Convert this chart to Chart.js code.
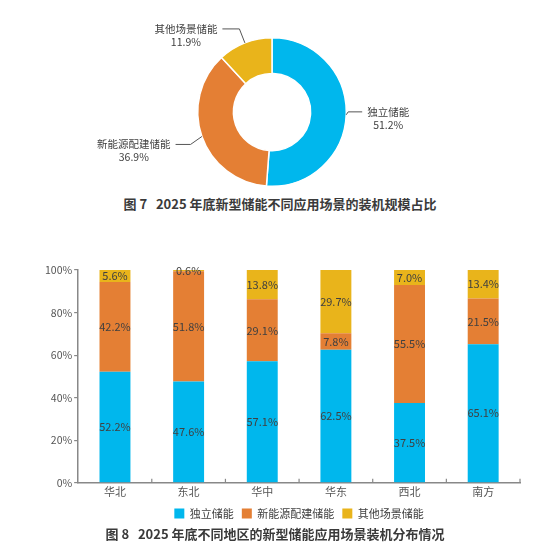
<!DOCTYPE html>
<html>
<head>
<meta charset="utf-8">
<script src="https://cdn.jsdelivr.net/npm/chart.js@4"></script>
<style>
    body { margin: 0; background: #fff; width: 560px; height: 560px; position: relative; overflow: hidden; }
    .box { position: absolute; left: 0; width: 560px; }
    .caption { position: absolute; left: 0; width: 560px; text-align: center; font-family: "Noto Sans CJK SC", sans-serif; font-weight: bold; font-size: 13px; color: #3a3a3a; }
</style>
</head>
<body>
<div class="box" style="top:0;height:192px"><canvas id="sceneChart"></canvas></div>
<div class="caption" style="top:194px">图 7&nbsp;&nbsp;&nbsp;2025 年底新型储能不同应用场景的装机规模占比</div>
<div class="box" style="top:250px;height:279px"><canvas id="regionChart"></canvas></div>
<div class="caption" style="top:524px;left:-5px">图 8&nbsp;&nbsp;&nbsp;2025 年底不同地区的新型储能应用场景装机分布情况</div>
<script>
// 图7 data
const sceneLabels = ["独立储能", "新能源配建储能", "其他场景储能"];
const sceneShares = [51.2, 36.9, 11.9];

// 图8 data
const regions = ["华北", "东北", "华中", "华东", "西北", "南方"];
const independentShare = [52.2, 47.6, 57.1, 62.5, 37.5, 65.1];
const renewableShare = [42.2, 51.8, 29.1, 7.8, 55.5, 21.5];
const otherShare = [5.6, 0.6, 13.8, 29.7, 7.0, 13.4];
const yTicks = [0, 20, 40, 60, 80, 100];

const colors = ["rgb(0,183,237)", "rgb(228,127,52)", "rgb(233,180,27)"];
const FONT = "'Noto Sans CJK SC', sans-serif";
const textColor = "#404040";

// leader line shape per slice (radial part, horizontal run, elbow y nudge)
const leaderRadial = [2, 12, 15];
const leaderRun = [14, 15, 17];
const leaderNudge = [-3, 4, 0];

// leader lines + two-line labels outside the doughnut
const sliceLabelPlugin = {
    id: "sliceLabels",
    afterDatasetsDraw(chart) {
        const ctx = chart.ctx;
        const meta = chart.getDatasetMeta(0);
        ctx.save();
        ctx.strokeStyle = "#555";
        ctx.lineWidth = 1;
        ctx.font = "10.5px " + FONT;
        ctx.fillStyle = textColor;
        ctx.textBaseline = "middle";
        ctx.textAlign = "center";
        meta.data.forEach((arc, i) => {
            const mid = (arc.startAngle + arc.endAngle) / 2;
            const cos = Math.cos(mid), sin = Math.sin(mid);
            const x0 = arc.x + cos * arc.outerRadius;
            const y0 = arc.y + sin * arc.outerRadius;
            const x1 = arc.x + cos * (arc.outerRadius + leaderRadial[i]);
            const y1 = arc.y + sin * (arc.outerRadius + leaderRadial[i]) + leaderNudge[i];
            const side = cos >= 0 ? 1 : -1;
            const x2 = x1 + side * leaderRun[i];
            ctx.beginPath();
            ctx.moveTo(x0, y0);
            ctx.lineTo(x1, y1);
            ctx.lineTo(x2, y1);
            ctx.stroke();
            const w = ctx.measureText(sceneLabels[i]).width;
            const cx = x2 + side * (5 + w / 2);
            ctx.fillText(sceneLabels[i], cx, y1);
            ctx.fillText(sceneShares[i].toFixed(1) + "%", cx, y1 + 13);
        });
        ctx.restore();
    }
};

new Chart(document.getElementById("sceneChart"), {
    type: "doughnut",
    data: {
        labels: sceneLabels,
        datasets: [{
            data: sceneShares,
            backgroundColor: colors,
            borderColor: "#fff",
            borderWidth: 1.5
        }]
    },
    options: {
        responsive: true,
        maintainAspectRatio: false,
        animation: false,
        cutout: "52%",
        layout: { padding: { top: 37, bottom: 5, left: 0, right: 16 } },
        plugins: { legend: { display: false }, tooltip: { enabled: false } }
    },
    plugins: [sliceLabelPlugin]
});

// values inside each stacked segment
const barLabelPlugin = {
    id: "barLabels",
    afterDatasetsDraw(chart) {
        const ctx = chart.ctx;
        ctx.save();
        ctx.font = "11px " + FONT;
        ctx.fillStyle = textColor;
        ctx.textAlign = "center";
        ctx.textBaseline = "middle";
        chart.data.datasets.forEach((ds, di) => {
            chart.getDatasetMeta(di).data.forEach((bar, i) => {
                ctx.fillText(ds.data[i].toFixed(1) + "%", bar.x, (bar.y + bar.base) / 2);
            });
        });
        ctx.restore();
    }
};

// short upward ticks on the category boundaries
const xTickPlugin = {
    id: "xTicks",
    afterDraw(chart) {
        const x = chart.scales.x;
        const y = chart.scales.y.getPixelForValue(0);
        const ctx = chart.ctx;
        ctx.save();
        ctx.strokeStyle = "#888";
        ctx.lineWidth = 1.2;
        for (let i = 1; i <= regions.length; i++) {
            const px = i < regions.length
                ? (x.getPixelForTick(i - 1) + x.getPixelForTick(i)) / 2
                : x.right;
            ctx.beginPath();
            ctx.moveTo(px, y);
            ctx.lineTo(px, y - 4);
            ctx.stroke();
        }
        ctx.restore();
    }
};

new Chart(document.getElementById("regionChart"), {
    type: "bar",
    data: {
        labels: regions,
        datasets: [
            { label: "独立储能", data: independentShare, backgroundColor: colors[0] },
            { label: "新能源配建储能", data: renewableShare, backgroundColor: colors[1] },
            { label: "其他场景储能", data: otherShare, backgroundColor: colors[2] }
        ]
    },
    options: {
        responsive: true,
        maintainAspectRatio: false,
        animation: false,
        datasets: { bar: { categoryPercentage: 1, barPercentage: 0.42 } },
        layout: { padding: { top: 20, right: 40, left: 43 } },
        plugins: {
            tooltip: { enabled: false },
            legend: {
                position: "bottom",
                fullSize: false,
                labels: {
                    boxWidth: 10,
                    boxHeight: 10,
                    padding: 8,
                    color: textColor,
                    font: { family: FONT, size: 11 }
                }
            }
        },
        scales: {
            x: {
                stacked: true,
                grid: { display: false, drawTicks: false },
                border: { color: "#888", width: 1.5 },
                ticks: { color: "#555", padding: 2, font: { family: FONT, size: 11 } }
            },
            y: {
                stacked: true,
                min: 0,
                max: 100,
                afterBuildTicks: axis => { axis.ticks = yTicks.map(v => ({ value: v })); },
                grid: { drawOnChartArea: false, tickLength: 4, color: "#888", lineWidth: 1.2 },
                border: { color: "#888", width: 1.5 },
                ticks: {
                    color: "#555",
                    padding: 2,
                    font: { family: FONT, size: 10.5 },
                    callback: v => v + "%"
                }
            }
        }
    },
    plugins: [barLabelPlugin, xTickPlugin]
});
</script>
</body>
</html>
